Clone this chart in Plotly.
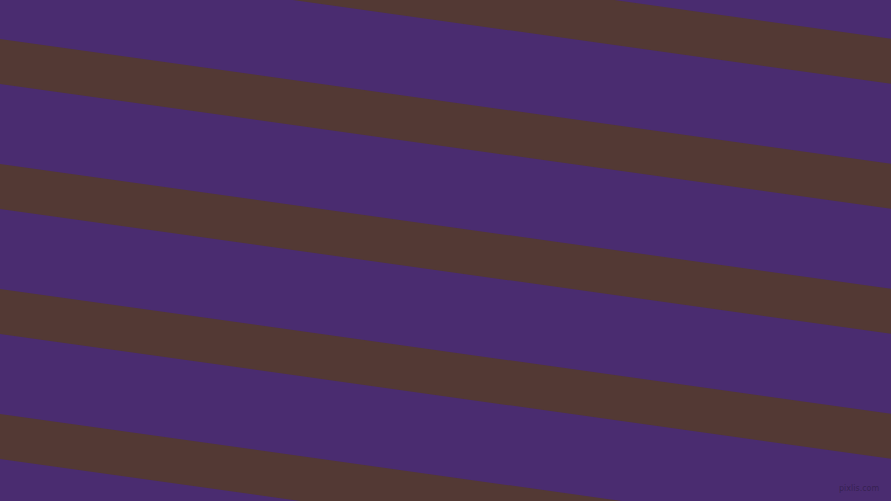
import plotly.graph_objects as go

# stripe geometry (pixel units, y grows downwards)
stripe_top_at_left = [-86, 39, 164, 289, 414]
stripe_slope = 0.14
stripe_thickness = 45

WIDTH = 891
HEIGHT = 501
PURPLE = "#4a2c70"
BROWN = "#533934"

fig = go.Figure()

for top in stripe_top_at_left:
    xs = [0, WIDTH, WIDTH, 0, 0]
    ys = [
        top,
        top + stripe_slope * WIDTH,
        top + stripe_slope * WIDTH + stripe_thickness,
        top + stripe_thickness,
        top,
    ]
    fig.add_trace(
        go.Scatter(
            x=xs,
            y=ys,
            mode="lines",
            fill="toself",
            fillcolor=BROWN,
            line=dict(width=0, color=BROWN),
            hoverinfo="skip",
            showlegend=False,
        )
    )

# faint watermark in the bottom right corner
fig.add_annotation(
    text="pixlis.com",
    x=881,
    y=488,
    xref="x",
    yref="y",
    xanchor="right",
    yanchor="middle",
    showarrow=False,
    font=dict(family="DejaVu Sans", size=8, color="rgba(40,25,60,0.6)"),
)

fig.update_layout(
    width=WIDTH,
    height=HEIGHT,
    autosize=False,
    margin=dict(l=0, r=0, t=0, b=0),
    paper_bgcolor=PURPLE,
    plot_bgcolor=PURPLE,
    xaxis=dict(range=[0, WIDTH], visible=False, fixedrange=True),
    yaxis=dict(range=[HEIGHT, 0], visible=False, fixedrange=True),
)

fig.write_html(
    "out.html",
    config=dict(displayModeBar=False),
    post_script="document.body.style.margin='0';document.body.style.overflow='hidden';",
)
